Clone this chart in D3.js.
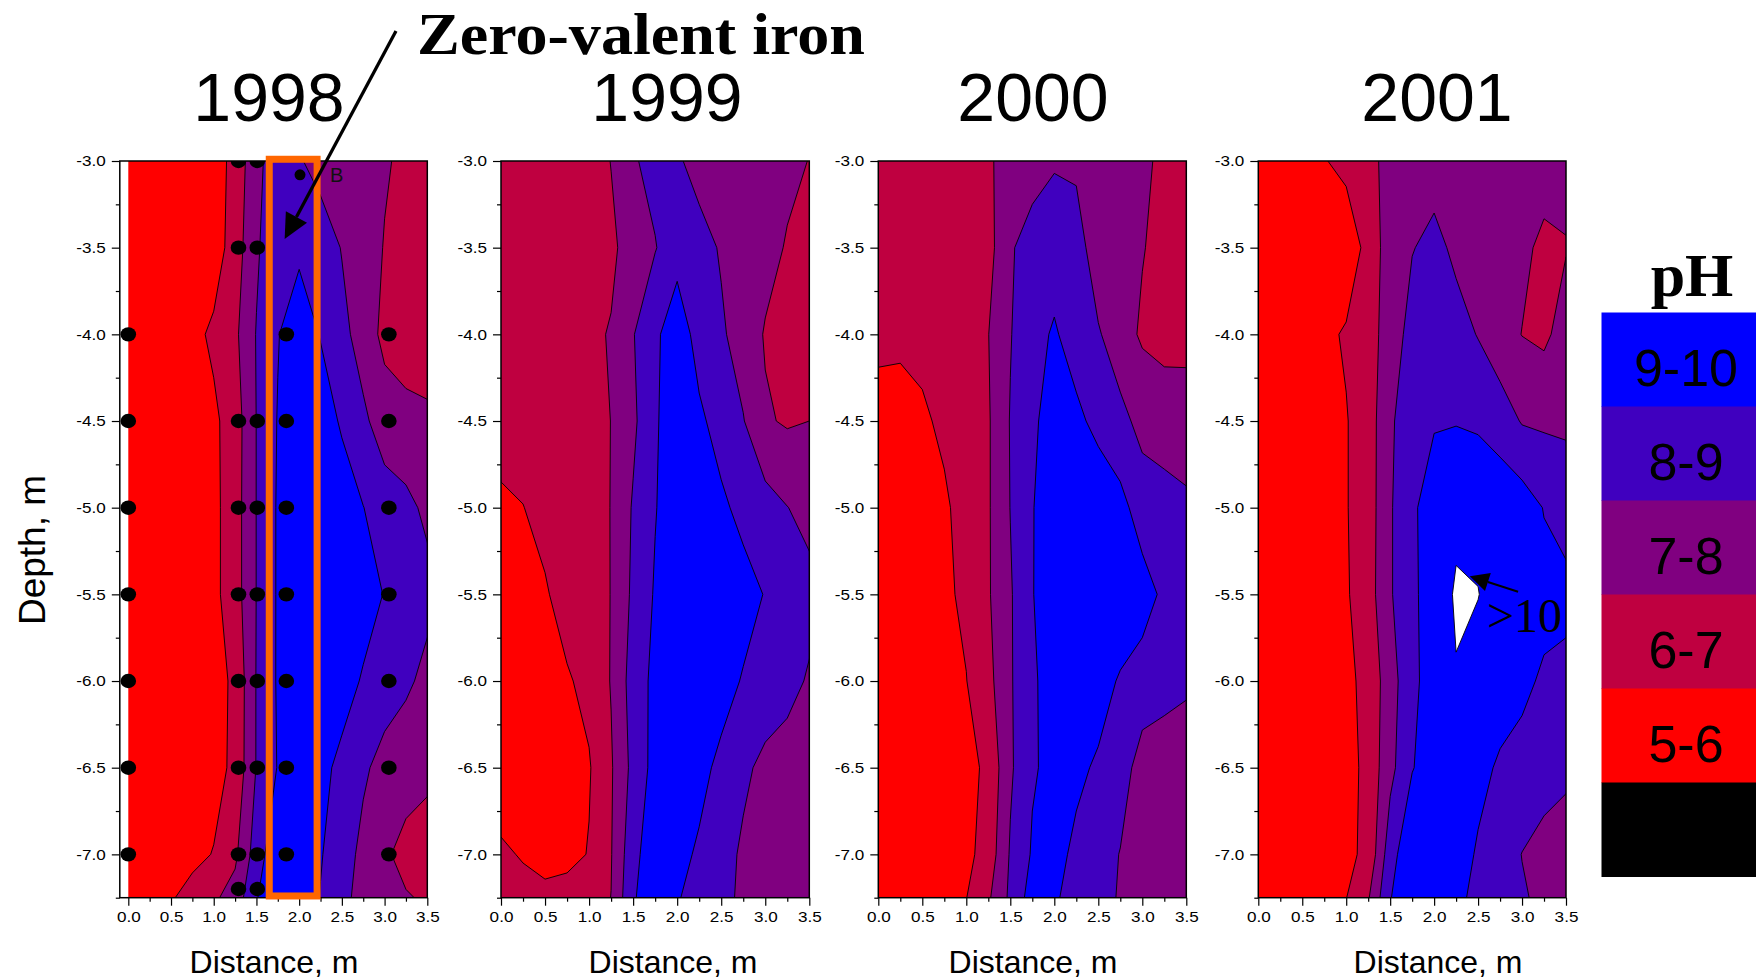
<!DOCTYPE html>
<html>
<head>
<meta charset="utf-8">
<title>pH contours 1998-2001</title>
<script src="https://cdnjs.cloudflare.com/ajax/libs/d3/7.8.5/d3.min.js"></script>
<style>
  body { margin: 0; background: #fff; }
  svg { display: block; font-family: "Liberation Sans", Arial, sans-serif; }
  .tick text { font-family: "Liberation Sans", Arial, sans-serif; font-size: 15px; fill: #000; }
  .tick line { stroke: #000; stroke-width: 1.2; }
</style>
</head>
<body>
<div id="plot"></div>
<script>
// grid the pH values were read on
var distances = [0, 0.25, 0.5, 0.75, 1.0, 1.25, 1.5, 1.75, 2.0, 2.25, 2.5, 2.75, 3.0, 3.25, 3.5];
var depths = [-3.0, -3.5, -4.0, -4.5, -5.0, -5.5, -6.0, -6.5, -7.0, -7.25];

var years = ["1998", "1999", "2000", "2001"];

// pH : one row per depth (top -> bottom), one value per distance
var ph1998 = [
  [5.2, 5.2, 5.2, 5.3, 5.4, 6.4, 7.65, 8.74, 8.1, 7.6, 7.5, 7.4, 7.1, 6.8, 6.6],
  [5.2, 5.2, 5.25, 5.35, 5.45, 6.51, 7.85, 8.8, 8.8, 8.6, 7.95, 7.5, 6.95, 6.6, 6.5],
  [5.2, 5.25, 5.4, 5.7, 6.2, 6.8, 8.05, 8.95, 9.6, 8.95, 8.3, 7.55, 6.74, 6.5, 6.4],
  [5.3, 5.35, 5.45, 5.6, 5.8, 6.51, 8.02, 9.05, 9.7, 9.5, 8.88, 8.2, 7.49, 7.3, 7.2],
  [5.3, 5.35, 5.45, 5.6, 5.75, 6.55, 8.02, 9.1, 9.8, 9.8, 9.5, 9.02, 8.5, 8.25, 7.8],
  [5.3, 5.35, 5.45, 5.6, 5.75, 6.55, 8.02, 9.1, 9.8, 9.8, 9.6, 9.3, 8.97, 8.6, 8.3],
  [5.3, 5.35, 5.45, 5.6, 5.6, 6.2, 8.05, 9.1, 9.6, 9.5, 9.3, 8.93, 8.6, 8.2, 7.7],
  [5.3, 5.35, 5.45, 5.6, 5.6, 6.25, 8.05, 9.05, 9.5, 9.2, 8.82, 8.2, 7.57, 7.3, 7.2],
  [5.3, 5.35, 5.45, 5.7, 6.05, 6.8, 8.5, 9.75, 9.6, 9.05, 8.6, 7.66, 7.1, 6.79, 6.6],
  [5.4, 5.6, 5.9, 6.4, 6.85, 7.39, 8.95, 9.7, 9.5, 8.97, 8.45, 7.43, 7.2, 7.05, 6.92]
];
var ph1999 = [
  [6.5, 6.5, 6.5, 6.55, 6.6, 7.02, 7.9, 8.3, 8.15, 7.6, 7.5, 7.4, 7.3, 7.2, 6.98],
  [6.5, 6.5, 6.5, 6.55, 6.6, 6.85, 7.35, 7.95, 8.6, 8.4, 7.9, 7.6, 7.3, 6.93, 6.7],
  [6.5, 6.5, 6.5, 6.6, 6.85, 7.05, 7.95, 8.8, 9.63, 8.58, 8.15, 7.53, 6.93, 6.7, 6.7],
  [6.45, 6.45, 6.5, 6.6, 6.7, 7.01, 7.8, 8.9, 9.5, 9.2, 8.58, 8.05, 7.1, 6.9, 7.0],
  [5.81, 5.98, 6.3, 6.5, 6.65, 7.02, 8.1, 8.95, 9.6, 9.5, 9.2, 8.7, 8.4, 8.02, 7.7],
  [5.4, 5.6, 5.9, 6.4, 6.6, 7.02, 8.2, 9.1, 9.7, 9.7, 9.6, 9.4, 8.95, 8.6, 8.3],
  [5.3, 5.4, 5.6, 5.9, 6.26, 7.05, 8.45, 9.26, 9.7, 9.6, 9.4, 8.92, 8.6, 8.3, 7.9],
  [5.2, 5.3, 5.4, 5.6, 5.92, 6.9, 8.3, 9.35, 9.6, 9.3, 8.76, 8.2, 7.75, 7.6, 7.5],
  [6.2, 5.9, 5.6, 5.7, 6.05, 6.95, 8.7, 9.64, 9.3, 8.86, 8.4, 7.84, 7.6, 7.5, 7.4],
  [6.5, 6.4, 6.3, 6.4, 6.6, 7.01, 8.9, 9.6, 9.1, 8.5, 8.2, 7.87, 7.6, 7.5, 7.4]
];
var ph2000 = [
  [6.5, 6.5, 6.55, 6.6, 6.7, 6.9, 7.3, 7.6, 7.9, 7.8, 7.6, 7.4, 7.2, 6.78, 6.6],
  [6.5, 6.5, 6.55, 6.6, 6.6, 6.65, 7.9, 8.4, 8.6, 8.5, 7.36, 7.3, 7.05, 6.7, 6.6],
  [6.3, 6.2, 6.35, 6.6, 6.8, 6.98, 7.95, 8.7, 9.1, 8.6, 8.1, 7.4, 6.87, 6.7, 6.75],
  [5.51, 5.6, 5.8, 6.25, 6.6, 6.9, 8.05, 8.8, 9.5, 9.2, 8.75, 8.3, 7.68, 7.5, 7.4],
  [5.3, 5.35, 5.5, 5.8, 6.51, 6.9, 8.02, 8.95, 9.6, 9.7, 9.6, 9.3, 8.55, 8.4, 8.2],
  [5.3, 5.35, 5.5, 5.85, 6.16, 6.9, 7.9, 8.95, 9.7, 9.8, 9.8, 9.7, 9.4, 8.81, 8.6],
  [5.2, 5.25, 5.35, 5.6, 5.98, 6.7, 7.9, 8.8, 9.6, 9.6, 9.4, 8.9, 8.6, 8.4, 8.2],
  [5.2, 5.25, 5.35, 5.5, 5.7, 6.2, 7.85, 8.9, 9.26, 9.2, 8.87, 8.5, 7.54, 7.4, 7.29],
  [5.2, 5.25, 5.35, 5.5, 5.75, 6.4, 8.1, 9.1, 9.3, 8.8, 8.5, 7.96, 7.8, 7.6, 7.4],
  [5.3, 5.4, 5.5, 5.7, 5.98, 6.85, 8.2, 9.45, 9.1, 8.7, 8.4, 7.9, 7.7, 7.6, 7.5]
];
var ph2001 = [
  [5.3, 5.35, 5.5, 5.95, 6.25, 6.8, 7.22, 7.5, 7.55, 7.6, 7.5, 7.4, 7.35, 7.4, 7.3],
  [5.2, 5.2, 5.25, 5.3, 5.4, 6.3, 7.55, 7.95, 8.3, 7.78, 7.6, 7.4, 7.2, 6.8, 6.95],
  [5.2, 5.2, 5.3, 5.8, 6.1, 6.7, 7.33, 8.45, 8.6, 8.4, 7.95, 7.4, 6.98, 6.8, 7.42],
  [5.2, 5.25, 5.35, 5.6, 5.95, 6.5, 7.85, 8.6, 8.9, 8.95, 8.85, 8.5, 7.93, 7.85, 7.8],
  [5.2, 5.25, 5.35, 5.6, 5.95, 6.5, 7.9, 8.8, 9.6, 9.8, 9.8, 9.7, 9.5, 8.96, 8.7],
  [5.2, 5.25, 5.35, 5.6, 5.9, 6.55, 7.9, 8.8, 9.5, 10.1, 10.02, 9.65, 9.5, 9.3, 9.2],
  [5.2, 5.25, 5.35, 5.55, 5.8, 6.25, 7.6, 8.7, 9.6, 9.95, 9.7, 9.5, 9.2, 8.87, 8.8],
  [5.2, 5.25, 5.3, 5.4, 5.6, 6.3, 7.7, 8.95, 9.5, 9.6, 9.3, 8.86, 8.7, 8.5, 8.3],
  [5.2, 5.25, 5.3, 5.45, 5.8, 6.2, 8.6, 9.8, 9.7, 9.5, 8.88, 8.5, 7.98, 7.6, 7.3],
  [5.3, 5.35, 5.45, 5.7, 5.98, 6.9, 8.95, 9.8, 9.6, 9.3, 8.67, 8.4, 8.1, 7.79, 7.5]
];
var phByYear = [ph1998, ph1999, ph2000, ph2001];

var phThresholds = [5, 6, 7, 8, 9, 10];
var legendLabels = ["9-10", "8-9", "7-8", "6-7", "5-6", ""];
var legendLevels = [9, 8, 7, 6, 5, 4];

var xTicks = [0, 0.5, 1, 1.5, 2, 2.5, 3, 3.5];
var xMinor = [0.25, 0.75, 1.25, 1.75, 2.25, 2.75, 3.25];
var yTicks = [-3, -3.5, -4, -4.5, -5, -5.5, -6, -6.5, -7];
var yMinor = [-3.25, -3.75, -4.25, -4.75, -5.25, -5.75, -6.25, -6.75, -7.25];

// sampling points in 1998
var wellDistance = [0.0, 1.29, 1.51, 1.85, 3.05];
var wellDepths = [
  [-4, -4.5, -5, -5.5, -6, -6.5, -7],
  [-3, -3.5, -4.5, -5, -5.5, -6, -6.5, -7, -7.2],
  [-3, -3.5, -4.5, -5, -5.5, -6, -6.5, -7, -7.2],
  [-4, -4.5, -5, -5.5, -6, -6.5, -7],
  [-4, -4.5, -5, -5.5, -6, -6.5, -7]
];
var wellB = [2.01, -3.08];
var ironWall = [1.65, 2.21, -2.99, -7.24];   // x from, x to, depth top, depth bottom

// --- layout -----
var W = 1756, H = 980;
var plotTop = 161, plotBottom = 897.7;
var stretch = 1.14;   // tick labels in the original are a bit wide
var panels = [
  { frameLeft: 119.8, x0: 128.3, x1: 427.3, titleX: 269, labelX: 274 },
  { frameLeft: 501, x0: 501, x1: 809.3, titleX: 667, labelX: 673 },
  { frameLeft: 878.3, x0: 878.3, x1: 1186.3, titleX: 1033, labelX: 1033 },
  { frameLeft: 1258.3, x0: 1258.3, x1: 1566, titleX: 1437, labelX: 1438 }
];

var bandColor = d3.scaleOrdinal()
  .domain([4, 5, 6, 7, 8, 9, 10])
  .range(["#000000", "#ff0000", "#bf0040", "#800080", "#4000bf", "#0000ff", "#ffffff"]);

var svg = d3.select("#plot").append("svg")
  .attr("width", W).attr("height", H);
svg.append("rect").attr("width", W).attr("height", H).attr("fill", "#fff");

var yScale = d3.scaleLinear().domain([-3, -7.25]).range([plotTop, plotBottom]);
// grid index -> real coordinates (rows are not evenly spaced)
var colDist = d3.scaleLinear().domain(d3.range(distances.length)).range(distances);
var rowDepth = d3.scaleLinear().domain(d3.range(depths.length)).range(depths);

function drawArrow(g, x1, y1, x2, y2, w, len, half) {
  var a = Math.atan2(y2 - y1, x2 - x1);
  var bx = x2 - len * Math.cos(a), by = y2 - len * Math.sin(a);
  g.append("line")
    .attr("x1", x1).attr("y1", y1).attr("x2", bx).attr("y2", by)
    .attr("stroke", "#000").attr("stroke-width", w);
  var pts = [[x2, y2],
    [bx + half * Math.sin(a), by - half * Math.cos(a)],
    [bx - half * Math.sin(a), by + half * Math.cos(a)]];
  g.append("polygon").attr("points", pts.join(" ")).attr("fill", "#000");
}

var scales = [];

panels.forEach(function(p, i) {
  var xScale = d3.scaleLinear().domain([0, 3.5]).range([p.x0, p.x1]);
  scales.push(xScale);
  var g = svg.append("g").attr("class", "panel");

  var defs = svg.append("defs");
  defs.append("clipPath").attr("id", "clipData" + i)
    .append("rect")
    .attr("x", p.x0).attr("y", plotTop)
    .attr("width", p.x1 - p.x0).attr("height", plotBottom - plotTop);
  defs.append("clipPath").attr("id", "clipFrame" + i)
    .append("rect")
    .attr("x", p.frameLeft).attr("y", plotTop)
    .attr("width", p.x1 - p.frameLeft).attr("height", plotBottom - plotTop);

  // contours live on grid coords, value i sits at i + 0.5
  var project = d3.geoTransform({
    point: function(cx, cy) {
      this.stream.point(xScale(colDist(cx - 0.5)), yScale(rowDepth(cy - 0.5)));
    }
  });
  var path = d3.geoPath(project);
  var values = phByYear[i].flat();
  var contours = d3.contours()
    .size([distances.length, depths.length])
    .thresholds(phThresholds)(values);

  g.append("g").attr("clip-path", "url(#clipData" + i + ")")
    .selectAll("path")
    .data(contours)
    .join("path")
    .attr("d", path)
    .attr("fill", function(d) { return bandColor(d.value); })
    .attr("stroke", "#000")
    .attr("stroke-width", 0.9)
    .attr("stroke-linejoin", "round");

  // axes
  var yAxis = d3.axisLeft(yScale).tickValues(yTicks)
    .tickFormat(function(d) { return d.toFixed(1); })
    .tickSize(8).tickPadding(6);
  var yMinorAxis = d3.axisLeft(yScale).tickValues(yMinor).tickFormat("").tickSize(4);
  var xAxis = d3.axisBottom(xScale).tickValues(xTicks)
    .tickFormat(function(d) { return d.toFixed(1); })
    .tickSize(8).tickPadding(6);
  var xMinorAxis = d3.axisBottom(xScale).tickValues(xMinor).tickFormat("").tickSize(4);

  [yAxis, yMinorAxis].forEach(function(ax) {
    g.append("g").attr("transform", "translate(" + p.frameLeft + ",0)")
      .call(ax).call(function(a) { a.select(".domain").remove(); });
  });
  [xAxis, xMinorAxis].forEach(function(ax) {
    g.append("g").attr("transform", "translate(0," + plotBottom + ")")
      .call(ax).call(function(a) { a.select(".domain").remove(); });
  });
  // widen the labels a little, keep their anchor where d3 put it
  g.selectAll(".tick text").each(function() {
    var t = d3.select(this);
    var x = +t.attr("x") || 0;
    t.attr("x", x / stretch).attr("transform", "scale(" + stretch + ",1)");
  });

  g.append("rect")
    .attr("x", p.frameLeft).attr("y", plotTop)
    .attr("width", p.x1 - p.frameLeft).attr("height", plotBottom - plotTop)
    .attr("fill", "none").attr("stroke", "#000").attr("stroke-width", 1.5);

  // year
  svg.append("text")
    .attr("x", p.titleX).attr("y", 121)
    .attr("text-anchor", "middle")
    .attr("font-size", 68)
    .text(years[i]);

  svg.append("text")
    .attr("x", p.labelX).attr("y", 973)
    .attr("text-anchor", "middle")
    .attr("font-size", 32)
    .text("Distance, m");
});

// ---- 1998 extras: sampling points, iron wall
var x98 = scales[0];
var wellPts = [];
wellDistance.forEach(function(xd, k) {
  wellDepths[k].forEach(function(dd) { wellPts.push([xd, dd]); });
});
svg.append("g").attr("clip-path", "url(#clipFrame0)")
  .selectAll("ellipse")
  .data(wellPts)
  .join("ellipse")
  .attr("cx", function(d) { return x98(d[0]); })
  .attr("cy", function(d) { return yScale(d[1]); })
  .attr("rx", 7.8).attr("ry", 7.2)
  .attr("fill", "#000");

svg.append("circle")
  .attr("cx", x98(wellB[0])).attr("cy", yScale(wellB[1]))
  .attr("r", 5.5).attr("fill", "#000");
svg.append("text")
  .attr("x", x98(2.36)).attr("y", yScale(-3.121))
  .attr("font-size", 20).attr("fill", "#111")
  .text("B");

svg.append("rect")
  .attr("x", x98(ironWall[0])).attr("y", yScale(ironWall[2]))
  .attr("width", x98(ironWall[1]) - x98(ironWall[0]))
  .attr("height", yScale(ironWall[3]) - yScale(ironWall[2]))
  .attr("fill", "none").attr("stroke", "#ff6600").attr("stroke-width", 7);

svg.append("text")
  .attr("x", 417).attr("y", 54)
  .attr("font-family", "'Liberation Serif', 'Times New Roman', serif")
  .attr("font-weight", "bold")
  .attr("font-size", 60)
  .attr("textLength", 448)
  .attr("lengthAdjust", "spacingAndGlyphs")
  .text("Zero-valent iron");
drawArrow(svg, 396, 31, x98(1.83), yScale(-3.45), 3.3, 25, 12);

// ---- 2001 extras: pH > 10 note
var x01 = scales[3];
drawArrow(svg, x01(2.955), yScale(-5.485), x01(2.406), yScale(-5.395), 2, 19, 9.5);
svg.append("text")
  .attr("x", x01(2.6)).attr("y", yScale(-5.718))
  .attr("font-family", "'Liberation Serif', 'Times New Roman', serif")
  .attr("font-size", 48)
  .text(">10");

// depth title
svg.append("text")
  .attr("transform", "translate(45,550)rotate(-90)")
  .attr("text-anchor", "middle")
  .attr("font-size", 37)
  .text("Depth, m");

// ---- legend
var legTop = 312.5, legH = 94, legX = 1601.5;
svg.append("text")
  .attr("x", 1692).attr("y", 296)
  .attr("text-anchor", "middle")
  .attr("font-family", "'Liberation Serif', 'Times New Roman', serif")
  .attr("font-weight", "bold")
  .attr("font-size", 62)
  .text("pH");

var leg = svg.append("g").selectAll("g")
  .data(legendLabels)
  .join("g")
  .attr("transform", function(d, k) { return "translate(" + legX + "," + (legTop + k * legH) + ")"; });
leg.append("rect")
  .attr("width", W - legX).attr("height", legH + 0.5)
  .attr("fill", function(d, k) { return bandColor(legendLevels[k]); });
leg.append("text")
  .attr("x", 1686 - legX).attr("y", 73)
  .attr("text-anchor", "middle")
  .attr("font-size", 52)
  .attr("fill", "#000")
  .text(function(d) { return d; });
</script>
</body>
</html>
